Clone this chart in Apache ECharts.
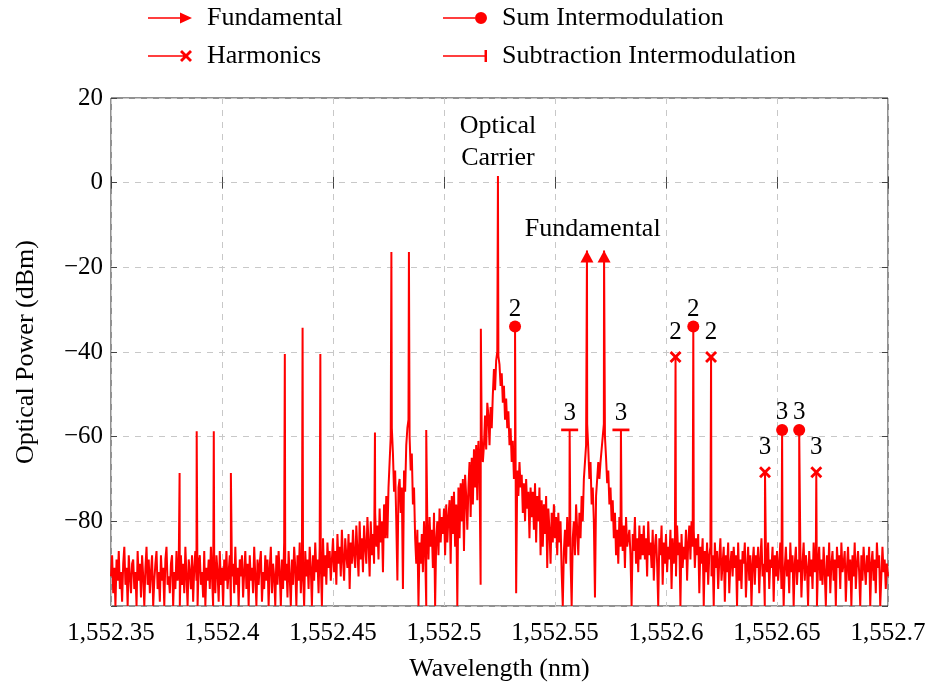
<!DOCTYPE html>
<html>
<head>
<meta charset="utf-8">
<title>Optical spectrum</title>
<script src="https://cdn.jsdelivr.net/npm/echarts@6.0.0/dist/echarts.min.js"></script>
<style>
  html, body { margin: 0; padding: 0; background: #fff; }
  #chart { width: 931px; height: 684px; }
</style>
</head>
<body>
<div id="chart"></div>
<script>
// measured noise floor, one sample every 0.0005 nm from 1552.350 nm (20 per row)
const noiseStart = 1552.35;
const noiseStep = 0.0005;
const noiseDb = [
  -93, -88, -97, -91, -100, -89, -94, -87, -96, -92, -99, -90, -86, -95, -91, -100, -88, -93, -97, -90,   // 1552.35
  -89, -96, -92, -100, -87, -94, -90, -98, -88, -93, -100, -91, -86, -95, -89, -97, -92, -88, -100, -94,
  -90, -87, -96, -92, -99, -88, -94, -91, -100, -89, -86, -95, -93, -97, -90, -88, -100, -92, -96, -87,
  -94, -91, -100, -88, -95, -90, -97, -86, -93, -100, -89, -92, -96, -88, -99, -91, -87, -94, -100, -90,
  -88, -95, -92, -98, -87, -100, -91, -94, -89, -96, -86, -93, -100, -90, -97, -88, -92, -99, -87, -95,
  -91, -100, -89, -94, -87, -96, -92, -88, -100, -93, -90, -97, -86, -95, -91, -100, -89, -93, -88, -98,  // 1552.40
  -92, -87, -96, -90, -100, -88, -94, -91, -97, -86, -93, -100, -89, -95, -90, -87, -99, -92, -96, -88,
  -94, -89, -100, -91, -86, -97, -90, -93, -100, -88, -95, -87, -92, -100, -89, -96, -85, -94, -90, -98,
  -87, -93, -100, -89, -95, -86, -91, -100, -88, -94, -85, -97, -90, -92, -100, -87, -93, -89, -96, -86,
  -91, -100, -88, -94, -85, -92, -89, -97, -86, -90, -100, -84, -93, -88, -95, -85, -91, -87, -94, -89,
  -84, -92, -87, -95, -83, -90, -86, -93, -82, -89, -94, -84, -88, -91, -83, -96, -85, -90, -82, -88,     // 1552.45
  -91, -81, -87, -93, -80, -89, -84, -92, -81, -86, -90, -79, -85, -93, -80, -88, -83, -90, -78, -86,
  -81, -89, -77, -85, -80, -92, -76, -84, -74, -84, -72, -66, -60, -58, -64, -73, -68, -80, -94, -72,
  -70, -78, -72, -96, -68, -73, -62, -58, -56, -60, -68, -64, -76, -72, -84, -90, -82, -100, -85, -90,
  -83, -92, -80, -87, -100, -81, -89, -79, -86, -82, -91, -78, -100, -84, -80, -88, -77, -85, -79, -83,
  -77, -88, -76, -85, -79, -75, -90, -74, -83, -73, -86, -76, -100, -72, -84, -71, -80, -70, -87, -69,    // 1552.50
  -74, -82, -72, -66, -79, -65, -76, -63, -72, -62, -75, -61, -68, -95, -60, -66, -62, -55, -63, -52,
  -55, -62, -53, -58, -50, -44, -49, -42, -40, -41, -43, -48, -45, -52, -48, -56, -51, -58, -54, -62,
  -58, -66, -61, -70, -64, -97, -68, -74, -66, -72, -69, -78, -71, -80, -70, -77, -73, -84, -72, -79,
  -73, -82, -71, -85, -74, -80, -72, -88, -75, -86, -76, -83, -74, -91, -77, -82, -90, -78, -85, -76,
  -84, -79, -88, -78, -85, -80, -92, -100, -87, -82, -90, -79, -86, -81, -89, -100, -84, -80, -88, -76,  // 1552.55
  -82, -88, -78, -84, -74, -80, -70, -66, -62, -57, -63, -70, -66, -76, -72, -80, -98, -74, -70, -66,
  -70, -66, -63, -60, -57, -60, -65, -71, -68, -76, -72, -80, -75, -84, -78, -88, -82, -90, -79, -86,
  -80, -87, -81, -91, -79, -86, -84, -82, -88, -100, -83, -87, -79, -90, -84, -92, -81, -89, -83, -88,
  -81, -89, -84, -93, -80, -88, -85, -91, -82, -94, -86, -83, -90, -100, -84, -88, -81, -95, -85, -90,
  -83, -92, -86, -89, -82, -96, -84, -90, -87, -93, -81, -88, -85, -100, -83, -91, -86, -89, -82, -94,   // 1552.60
  -85, -81, -89, -80, -86, -82, -91, -84, -88, -83, -97, -86, -90, -84, -100, -87, -92, -85, -95, -88,
  -86, -93, -88, -100, -85, -91, -87, -96, -89, -84, -94, -90, -86, -99, -88, -92, -85, -97, -90, -87,
  -93, -86, -91, -88, -100, -85, -94, -89, -96, -87, -90, -85, -98, -91, -86, -94, -88, -100, -90, -86,
  -95, -88, -91, -86, -97, -89, -84, -93, -90, -100, -87, -92, -85, -96, -89, -91, -86, -99, -88, -93,
  -87, -94, -90, -85, -96, -88, -100, -91, -86, -93, -89, -97, -85, -92, -88, -100, -90, -86, -95, -89,  // 1552.65
  -92, -86, -98, -90, -85, -94, -88, -91, -100, -87, -93, -89, -96, -85, -92, -88, -100, -90, -86, -94,
  -89, -95, -86, -92, -100, -88, -93, -85, -97, -90, -87, -94, -89, -100, -86, -91, -88, -96, -85, -92,
  -90, -87, -99, -91, -86, -94, -89, -100, -88, -93, -85, -96, -90, -87, -92, -100, -88, -94, -86, -91,
  -95, -88, -92, -86, -100, -90, -87, -94, -89, -97, -85, -91, -88, -100, -93, -86, -92, -89, -96, -90,
  -93                                                                                                      // 1552.70
];

// narrow spectral lines (nm, dBm)
const spikeWl = [
  1552.3809, 1552.3886, 1552.3963, 1552.4040,
  1552.4283, 1552.4363, 1552.4443,
  1552.4689, 1552.4763, 1552.4842, 1552.4920, 1552.5166,
  1552.5243,
  1552.5320, 1552.5566, 1552.5644, 1552.5721, 1552.5797,
  1552.6043, 1552.6123, 1552.6203,
  1552.6446, 1552.6523, 1552.6600, 1552.6677
];
const spikeDb = [
  -68.6, -58.7, -58.7, -68.6,
  -40.5, -34.3, -40.5,
  -59, -16.4, -16.4, -58.4, -34.5,
  1.6,
  -34, -58.4, -16, -16, -58.4,
  -41.2, -34, -41.2,
  -68.4, -58.4, -58.4, -68.4
];

// marked products
const fundWl = [1552.5644, 1552.5721];
const fundDb = [-16, -16];
const sumWl = [1552.5320, 1552.6123, 1552.6523, 1552.6600];
const sumDb = [-34, -34, -58.4, -58.4];
const sumOrder = ['2', '2', '3', '3'];
const harmWl = [1552.6043, 1552.6203, 1552.6446, 1552.6677];
const harmDb = [-41.2, -41.2, -68.4, -68.4];
const harmOrder = ['2', '2', '3', '3'];
const subWl = [1552.5566, 1552.5797];
const subDb = [-58.4, -58.4];
const subOrder = ['3', '3'];

// text notes in the plot
const noteText = ['Optical\nCarrier', 'Fundamental'];
const noteWl = [1552.5243, 1552.567];
const noteDb = [9.6, -11];

const xTicks = { min: 1552.35, max: 1552.7, step: 0.05 };
const yTicks = { min: -100, max: 20, step: 20 };

const RED = '#ff0000';
const FONT = '"Liberation Serif", "DejaVu Serif", serif';

const spectrum = noiseDb.map((v, i) => [+(noiseStart + i * noiseStep).toFixed(4), v]);
spikeWl.forEach((w, k) => spectrum.push([w, spikeDb[k]]));
spectrum.sort((a, b) => a[0] - b[0]);

const pair = (xs, ys) => xs.map((x, i) => [x, ys[i]]);

const crossPath = 'path://M0,2 L2,0 L6,4 L10,0 L12,2 L8,6 L12,10 L10,12 L6,8 L2,12 L0,10 L4,6 Z';
const icons = {
  arrow: 'path://M0,5.2 L33,5.2 L33,6.8 L0,6.8 Z M32,0.5 L44,6 L32,11.5 Z',
  cross: 'path://M0,5.2 L36,5.2 L36,6.8 L0,6.8 Z M32,2 L34,0 L38,4 L42,0 L44,2 L40,6 L44,10 L42,12 L38,8 L34,12 L32,10 L36,6 Z',
  dot: 'path://M0,5.2 L32,5.2 L32,6.8 L0,6.8 Z M32,6 A6,6 0 1 1 44,6 A6,6 0 1 1 32,6 Z',
  bar: 'path://M0,5.2 L42,5.2 L42,6.8 L0,6.8 Z M42,0 L44.5,0 L44.5,12 L42,12 Z'
};

function fmtWl(v) {
  const s = String(Math.round(v * 100) / 100);
  const parts = s.split('.');
  return parts[0].replace(/\B(?=(\d{3})+(?!\d))/g, ',') + (parts[1] ? '.' + parts[1] : '');
}
function fmtDb(v) {
  if (v === -100) return '';
  return v < 0 ? '\u2212' + Math.abs(v) : String(v);
}

const legendBase = {
  orient: 'vertical',
  top: 5,
  padding: 0,
  itemWidth: 44,
  itemHeight: 12,
  itemGap: 12,
  selectedMode: false,
  textStyle: { fontFamily: FONT, color: '#000', fontSize: 26, padding: [0, 0, 0, 10] }
};
const markLabel = (orders, dy) => ({
  show: true,
  position: 'inside',
  offset: [0, dy],
  formatter: p => orders[p.dataIndex],
  fontFamily: FONT,
  fontSize: 25,
  color: '#000'
});
const markStyle = { color: RED, opacity: 1 };

const chart = echarts.init(document.getElementById('chart'));
chart.setOption({
  animation: false,
  backgroundColor: '#fff',
  textStyle: { fontFamily: FONT, color: '#000' },
  grid: {
    left: 111, right: 43, top: 98, bottom: 78,
    show: true, borderColor: '#222', borderWidth: 1,
    outerBoundsMode: 'none'
  },
  legend: [
    Object.assign({}, legendBase, {
      left: 148,
      data: [{ name: 'Fundamental', icon: icons.arrow }, { name: 'Harmonics', icon: icons.cross }]
    }),
    Object.assign({}, legendBase, {
      left: 443,
      data: [{ name: 'Sum Intermodulation', icon: icons.dot }, { name: 'Subtraction Intermodulation', icon: icons.bar }]
    })
  ],
  xAxis: [
    {
      type: 'value',
      min: xTicks.min, max: xTicks.max, interval: xTicks.step,
      name: 'Wavelength (nm)',
      nameLocation: 'middle',
      nameGap: 50,
      nameTextStyle: { fontFamily: FONT, fontSize: 26, color: '#000' },
      axisLine: { show: false },
      axisTick: { show: true, inside: true, length: 6, lineStyle: { color: '#444' } },
      axisLabel: { formatter: fmtWl, margin: 15, fontFamily: FONT, fontSize: 25, color: '#000', showMinLabel: true, showMaxLabel: true },
      splitLine: { show: true, lineStyle: { color: '#c8c8c8', type: [6, 6], width: 1 } }
    },
    {
      type: 'value', position: 'top',
      min: xTicks.min, max: xTicks.max, interval: xTicks.step,
      axisLine: { show: false },
      axisTick: { show: true, inside: true, length: 6, lineStyle: { color: '#444' } },
      axisLabel: { show: false },
      splitLine: { show: false }
    }
  ],
  yAxis: [
    {
      type: 'value',
      min: yTicks.min, max: yTicks.max, interval: yTicks.step,
      name: 'Optical Power (dBm)',
      nameLocation: 'middle',
      nameGap: 72,
      nameTextStyle: { fontFamily: FONT, fontSize: 26, color: '#000' },
      axisLine: { show: false },
      axisTick: { show: true, inside: true, length: 6, lineStyle: { color: '#444' } },
      axisLabel: { formatter: fmtDb, margin: 8, fontFamily: FONT, fontSize: 25, color: '#000' },
      splitLine: { show: true, lineStyle: { color: '#c8c8c8', type: [6, 6], width: 1 } }
    },
    {
      type: 'value', position: 'right',
      min: yTicks.min, max: yTicks.max, interval: yTicks.step,
      axisLine: { show: false },
      axisTick: { show: true, inside: true, length: 6, lineStyle: { color: '#444' } },
      axisLabel: { show: false },
      splitLine: { show: false }
    }
  ],
  series: [
    {
      name: 'spectrum',
      type: 'line',
      data: spectrum,
      symbol: 'none',
      sampling: false,
      lineStyle: { color: RED, width: 2 },
      z: 2
    },
    {
      name: 'Fundamental',
      type: 'scatter',
      data: pair(fundWl, fundDb),
      symbol: 'triangle',
      symbolSize: [13, 12],
      symbolOffset: [0, 6],
      itemStyle: markStyle,
      z: 3
    },
    {
      name: 'Harmonics',
      type: 'scatter',
      data: pair(harmWl, harmDb),
      symbol: crossPath,
      symbolSize: 12,
      itemStyle: markStyle,
      label: markLabel(harmOrder, -25),
      z: 3
    },
    {
      name: 'Sum Intermodulation',
      type: 'scatter',
      data: pair(sumWl, sumDb),
      symbol: 'circle',
      symbolSize: 12,
      itemStyle: markStyle,
      label: markLabel(sumOrder, -17),
      z: 3
    },
    {
      name: 'Subtraction Intermodulation',
      type: 'scatter',
      data: pair(subWl, subDb),
      symbol: 'rect',
      symbolSize: [17, 2.7],
      itemStyle: markStyle,
      label: markLabel(subOrder, -16),
      z: 3
    },
    {
      name: 'notes',
      type: 'scatter',
      data: pair(noteWl, noteDb),
      symbolSize: 1,
      silent: true,
      itemStyle: { color: 'rgba(0,0,0,0)', opacity: 1 },
      label: {
        show: true,
        position: 'inside',
        formatter: p => noteText[p.dataIndex],
        fontFamily: FONT,
        fontSize: 26,
        lineHeight: 32,
        color: '#000'
      },
      z: 4
    }
  ]
});
</script>
</body>
</html>
